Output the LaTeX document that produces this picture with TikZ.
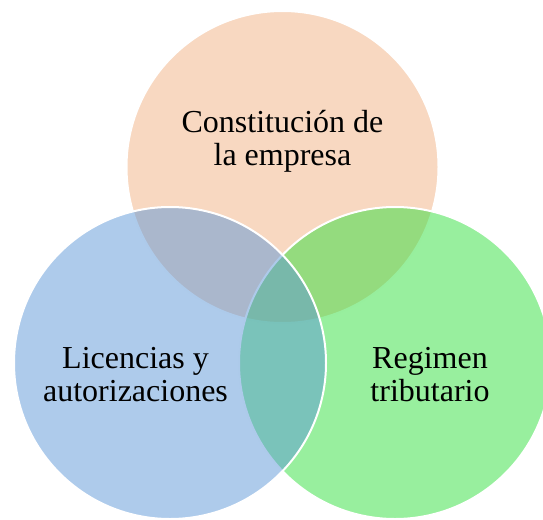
\documentclass[tikz,border=0pt]{standalone}
\usepackage{fontspec}
\setmainfont{Liberation Serif}
\usetikzlibrary{positioning}
\definecolor{myorange}{RGB}{248,216,193}
\definecolor{myblue}{RGB}{93,151,215}
\definecolor{mygreen}{RGB}{49,223,61}

\begin{document}
\begin{tikzpicture}[x=1pt,y=-1pt,
  every node/.style={inner sep=0pt},
  setnode/.style={circle,draw=white,line width=2pt,minimum size=312pt},
  txtnode/.style={align=center,font=\fontsize{32}{33}\selectfont}
]
\useasboundingbox (0,0) rectangle (543,519);

% the three sets
\node[setnode,fill=myorange] (empresa) at (282.5,167) {};
\node[setnode,fill=mygreen,fill opacity=0.5] (regimen) at (395,363) {};
\node[setnode,fill=myblue,fill opacity=0.5] (licencias) at (170,363) {};

% the labels
\node[txtnode] (tempresa) at (282.5,141) {Constitución de\\la empresa};
\node[txtnode] (tlicencias) at (135.5,375) {Licencias y\\autorizaciones};
\node[txtnode] (tregimen) at (430,375) {Regimen\\tributario};
\end{tikzpicture}
\end{document}
